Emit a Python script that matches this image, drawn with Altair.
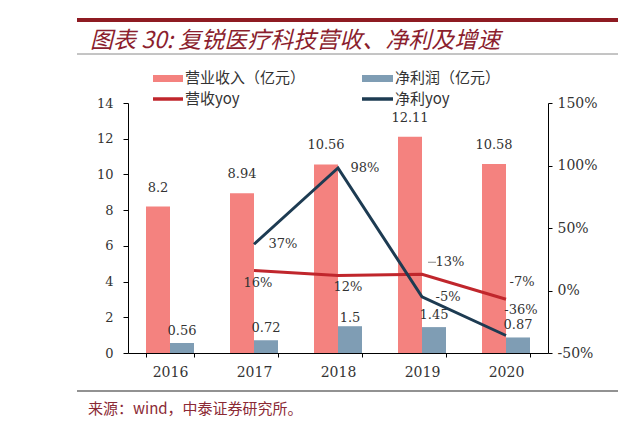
import altair as alt
import pandas as pd

# ---------------- data ----------------
years = ["2016", "2017", "2018", "2019", "2020"]
revenue = [8.2, 8.94, 10.56, 12.11, 10.58]          # 营业收入（亿元）
profit = [0.56, 0.72, 1.5, 1.45, 0.87]              # 净利润（亿元）
yoy_years = ["2017", "2018", "2019", "2020"]
revenue_yoy = [16, 12, 13, -7]                      # 营收yoy (%)
profit_yoy = [37, 98, -5, -36]                      # 净利yoy (%)
series_names = ["营业收入（亿元）", "净利润（亿元）", "营收yoy", "净利yoy"]
left_ticks = [0, 2, 4, 6, 8, 10, 12, 14]
right_ticks = [-50, 0, 50, 100, 150]
title_text = "图表 30: 复锐医疗科技营收、净利及增速"
source_text = "来源：wind，中泰证券研究所。"

# ---------------- styles ----------------
colors = ["#F4827F", "#7F9DB4", "#C0262C", "#1D3B52"]
num_font = "DejaVu Serif"
cjk_font = "Noto Sans CJK SC"
txt_color = "#333333"

bars_df = pd.DataFrame({
    "year": years * 2,
    "series": [series_names[0]] * len(years) + [series_names[1]] * len(years),
    "value": revenue + profit,
})
bars_df["label"] = [f"{v:g}" for v in bars_df["value"]]

lines_df = pd.DataFrame({
    "year": yoy_years * 2,
    "series": [series_names[2]] * len(yoy_years) + [series_names[3]] * len(yoy_years),
    "yoy": revenue_yoy + profit_yoy,
})
lines_df["label"] = [f"{v}%" for v in lines_df["yoy"]]

color_scale = alt.Scale(domain=series_names, range=colors)

x_axis = alt.Axis(title=None, labelAngle=0, tickBand="extent", grid=False,
                  domainColor="#000", tickColor="#000", tickSize=4,
                  labelFont=num_font, labelFontSize=14, labelColor=txt_color,
                  labelPadding=8)
x_enc = alt.X("year:N", sort=years,
              scale=alt.Scale(domain=years, paddingInner=0.4286, paddingOuter=0.2143),
              axis=x_axis)
xoff_enc = alt.XOffset("series:N",
                       scale=alt.Scale(domain=series_names[:2], paddingInner=0, paddingOuter=0))

left_axis = alt.Axis(orient="left", values=left_ticks, title=None, grid=False,
                     domainColor="#000", tickColor="#000", tickSize=5,
                     labelFont=num_font, labelFontSize=13, labelColor=txt_color,
                     labelPadding=10)
right_axis = alt.Axis(orient="right", values=right_ticks, title=None, grid=False,
                      labelExpr="datum.value + '%'",
                      domainColor="#000", tickColor="#000", tickSize=4,
                      labelFont=num_font, labelFontSize=14, labelColor=txt_color,
                      labelPadding=5)

y_left = alt.Y("value:Q", scale=alt.Scale(domain=[0, 14], nice=False), axis=left_axis)
y_right = alt.Y("yoy:Q", scale=alt.Scale(domain=[-50, 150], nice=False), axis=right_axis)

bars = alt.Chart(bars_df).mark_bar().encode(
    x=x_enc, xOffset=xoff_enc, y=y_left,
    color=alt.Color("series:N", scale=color_scale, legend=None),
)

def bar_label(series, dy, only=None):
    c = alt.Chart(bars_df).transform_filter(alt.datum.series == series)
    if only is not None:
        c = c.transform_filter(alt.FieldOneOfPredicate(field="year", oneOf=only))
    return c.mark_text(dy=dy, font=num_font, fontSize=13, color=txt_color,
                       baseline="middle").encode(
        x=x_enc, xOffset=xoff_enc, y=y_left, text="label:N")

left = alt.layer(
    bars,
    bar_label(series_names[0], -19),
    bar_label(series_names[1], -12, ["2016", "2017", "2019", "2020"]),
    bar_label(series_names[1], -8, ["2018"]),
)

lines = alt.Chart(lines_df).mark_line(strokeWidth=3).encode(
    x=x_enc, y=y_right,
    color=alt.Color("series:N", scale=color_scale, legend=None),
)

# label placement (style): (series index, year, dx, dy)
label_place = [
    (2, "2017", 4, 12), (2, "2018", 10, 11), (2, "2019", 28, -12), (2, "2020", 16, -17),
    (3, "2017", 29, 0), (3, "2018", 27, 0), (3, "2019", 26, 0), (3, "2020", 15, -26),
]
line_labels = []
for si, yr, dx, dy in label_place:
    line_labels.append(
        alt.Chart(lines_df)
        .transform_filter((alt.datum.series == series_names[si]) & (alt.datum.year == yr))
        .mark_text(dx=dx, dy=dy, font=num_font, fontSize=13, color=txt_color, baseline="middle")
        .encode(x=x_enc, y=y_right, text="label:N")
    )

# short leader stroke in front of the 2019 revenue-growth label
leader = (
    alt.Chart(lines_df)
    .transform_filter((alt.datum.series == series_names[2]) & (alt.datum.year == "2019"))
    .mark_tick(xOffset=10, yOffset=-12, size=8, thickness=1, color="#888888", opacity=1)
    .encode(x=x_enc, y=y_right)
)

right = alt.layer(lines, *line_labels, leader)

# ---------------- decorations (title, rules, legend, source) ----------------
one = pd.DataFrame({"k": [0]})

def hrule(x1, x2, y, color, w):
    return alt.Chart(one).mark_rule(color=color, strokeWidth=w).encode(
        x=alt.value(x1), x2=alt.value(x2), y=alt.value(y))

def label(x, y, text, size, color, style="normal", font=cjk_font):
    return alt.Chart(one).mark_text(align="left", baseline="middle", font=font,
                                    fontSize=size, color=color, fontStyle=style).encode(
        x=alt.value(x), y=alt.value(y), text=alt.value(text))

def swatch(x1, x2, y1, y2, color):
    return alt.Chart(one).mark_rect(color=color).encode(
        x=alt.value(x1), x2=alt.value(x2), y=alt.value(y1), y2=alt.value(y2))

decor = [
    hrule(-51, 490, -83, "#8E1B22", 4),
    hrule(-51, 490, -49, "#8A8A8A", 1),
    hrule(-51, 490, 288, "#6E6E6E", 1.5),
    label(-38, -62, title_text, 23, "#8B1E2E", style="italic"),
    label(-40, 306, source_text, 15, "#8B2A35"),
    swatch(25, 55, -28, -21, colors[0]),
    swatch(234, 265, -28, -21, colors[1]),
    hrule(25, 55, -4, colors[2], 3.5),
    hrule(234, 265, -4, colors[3], 3.5),
    label(57, -25, series_names[0], 15, txt_color),
    label(267, -25, series_names[1], 15, txt_color),
    label(57, -4, series_names[2], 15, txt_color),
    label(267, -4, series_names[3], 15, txt_color),
]

chart = (
    alt.layer(left, right, *decor)
    .resolve_scale(y="independent")
    .properties(width=420, height=250,
                autosize=alt.AutoSizeParams(type="none"),
                padding={"left": 120, "top": 95, "right": 78, "bottom": 75},
                background="white")
    .configure_view(stroke=None)
)

chart.save("out.html", embed_options={"renderer": "svg", "actions": False})
